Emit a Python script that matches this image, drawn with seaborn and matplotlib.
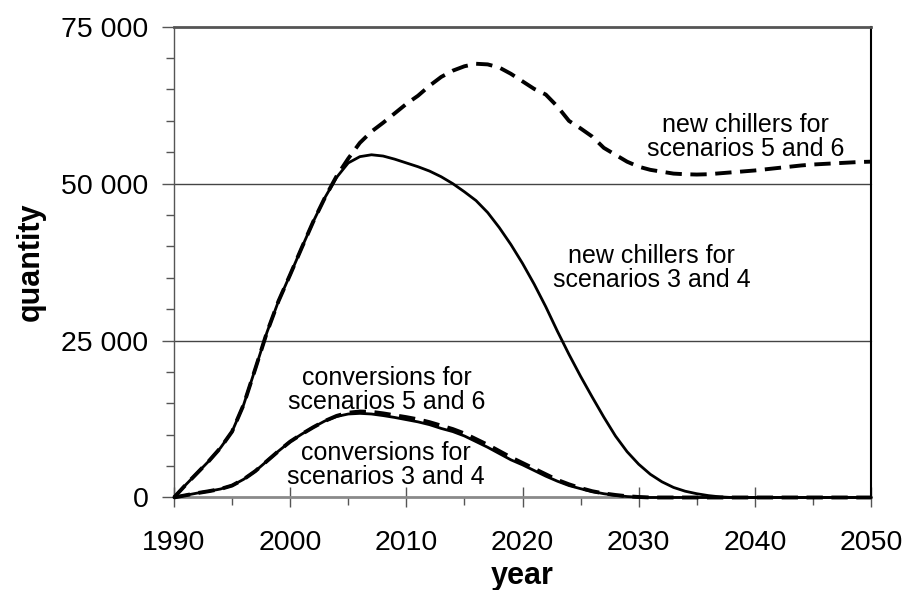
import matplotlib
matplotlib.use("Agg")
import matplotlib.pyplot as plt
from matplotlib.ticker import FixedLocator, MultipleLocator, FixedFormatter
import pandas as pd
import seaborn as sns

# Annual quantities, 1990-2050
years = list(range(1990, 2051))

new_chillers_3_4 = [
    0, 2000, 3900, 5800, 7900, 10500, 14800, 20500, 26300, 31300,
    35500, 39800, 44000, 47800, 51000, 53300, 54300, 54600, 54400, 53900,
    53300, 52700, 52000, 51100, 50000, 48700, 47300, 45400, 43000, 40300,
    37300, 34000, 30400, 26500, 22800, 19300, 16000, 12800, 9800, 7300,
    5300, 3700, 2500, 1600, 1000, 600, 300, 100, 0, 0,
    0, 0, 0, 0, 0, 0, 0, 0, 0, 0,
    0,
]

new_chillers_5_6 = [
    0, 2000, 3900, 5800, 7900, 10500, 14800, 20500, 26300, 31300,
    35500, 39800, 44000, 47800, 51200, 54000, 56500, 58300, 59700, 61200,
    62700, 64000, 65600, 67000, 68000, 68700, 69100, 69000, 68500, 67500,
    66300, 65100, 64200, 62300, 60000, 58800, 57500, 55700, 54600, 53500,
    52700, 52200, 51900, 51600, 51500, 51450, 51500, 51650, 51800, 51950,
    52100, 52300, 52500, 52700, 52900, 53050, 53150, 53250, 53350, 53450,
    53500,
]

conversions_3_4 = [
    0, 350, 700, 1000, 1350, 1900, 2900, 4200, 5800, 7400,
    8900, 10100, 11200, 12200, 12900, 13300, 13400, 13300, 13050, 12750,
    12400, 12050, 11600, 11000, 10500, 9800, 8900, 8000, 7000, 6000,
    5200, 4300, 3400, 2600, 1900, 1400, 950, 600, 350, 150,
    50, 0, 0, 0, 0, 0, 0, 0, 0, 0,
    0, 0, 0, 0, 0, 0, 0, 0, 0, 0,
    0,
]

conversions_5_6 = [
    0, 350, 700, 1000, 1350, 1900, 2900, 4200, 5800, 7400,
    8900, 10100, 11200, 12200, 13000, 13500, 13700, 13650, 13400, 13100,
    12800, 12450, 12000, 11450, 10900, 10200, 9300, 8400, 7400, 6400,
    5500, 4600, 3700, 2800, 2100, 1500, 1000, 650, 400, 200,
    80, 0, 0, 0, 0, 0, 0, 0, 0, 0,
    0, 0, 0, 0, 0, 0, 0, 0, 0, 0,
    0,
]

x_ticks = [1990, 2000, 2010, 2020, 2030, 2040, 2050]
y_ticks = [0, 25000, 50000, 75000]
y_tick_labels = ["0", "25 000", "50 000", "75 000"]

df = pd.DataFrame({
    "year": years,
    "new_3_4": new_chillers_3_4,
    "new_5_6": new_chillers_5_6,
    "conv_3_4": conversions_3_4,
    "conv_5_6": conversions_5_6,
})

sns.set_theme(style="white")
plt.rcParams["font.family"] = ["Liberation Sans", "DejaVu Sans"]
plt.rcParams["text.color"] = "black"
plt.rcParams["axes.labelcolor"] = "black"
plt.rcParams["xtick.color"] = "black"
plt.rcParams["ytick.color"] = "black"

fig = plt.figure(figsize=(9.08, 5.90), dpi=100)
ax = fig.add_axes([0.1916, 0.1568, 0.7677, 0.7979])

# horizontal reference lines
for yv in (25000, 50000):
    ax.axhline(yv, color="#444444", lw=1.0, zorder=1)

solid_kw = dict(color="black", lw=2.0, zorder=3)
dash_kw = dict(color="black", lw=2.8, zorder=4)

sns.lineplot(data=df, x="year", y="new_3_4", ax=ax, **solid_kw)
sns.lineplot(data=df, x="year", y="conv_3_4", ax=ax, **solid_kw)
l1 = sns.lineplot(data=df, x="year", y="new_5_6", ax=ax, **dash_kw).lines[-1]
l1.set_dashes((4.2, 2.2))
l2 = sns.lineplot(data=df, x="year", y="conv_5_6", ax=ax, **dash_kw).lines[-1]
l2.set_dashes((4.2, 2.2))
for ln in ax.lines:
    ln.set_clip_on(False)

ax.set_xlim(1990, 2050)
ax.set_ylim(0, 75000)

ax.xaxis.set_major_locator(FixedLocator(x_ticks))
ax.xaxis.set_minor_locator(MultipleLocator(5))
ax.yaxis.set_major_locator(FixedLocator(y_ticks))
ax.yaxis.set_major_formatter(FixedFormatter(y_tick_labels))
ax.yaxis.set_minor_locator(MultipleLocator(5000))

ax.tick_params(axis="x", which="major", direction="inout", length=14, width=1.0,
               color="#555555", labelcolor="black", labelsize=20.5, pad=16.5,
               bottom=True)
ax.tick_params(axis="x", which="minor", direction="out", length=6, width=1.0,
               color="#555555", bottom=True)
ax.tick_params(axis="y", which="major", direction="out", length=9, width=1.0,
               color="#555555", labelcolor="black", labelsize=20.5, pad=9.5,
               left=True)
ax.tick_params(axis="y", which="minor", direction="out", length=6, width=1.0,
               color="#555555", left=True)

for side, col, w in (("left", "#555555", 1.0), ("bottom", "#8a8a8a", 2.0),
                     ("top", "#555555", 2.0), ("right", "black", 1.5)):
    ax.spines[side].set_visible(True)
    ax.spines[side].set_color(col)
    ax.spines[side].set_linewidth(w)

ax.set_xlabel("year", fontsize=22, fontweight="bold", va="center")
ax.xaxis.set_label_coords(0.499, -0.166)
ax.set_ylabel("quantity", fontsize=22, fontweight="bold", va="center")
ax.yaxis.set_label_coords(-0.205, 0.50)

txt_kw = dict(fontsize=18, ha="center", va="center", linespacing=1.0, zorder=5)
ax.text(2039.2, 57500, "new chillers for\nscenarios 5 and 6", **txt_kw)
ax.text(2031.1, 36500, "new chillers for\nscenarios 3 and 4", **txt_kw)
ax.text(2008.3, 17200, "conversions for\nscenarios 5 and 6", **txt_kw)
ax.text(2008.2, 5100, "conversions for\nscenarios 3 and 4", **txt_kw)

fig.savefig("out.png", dpi=100)
